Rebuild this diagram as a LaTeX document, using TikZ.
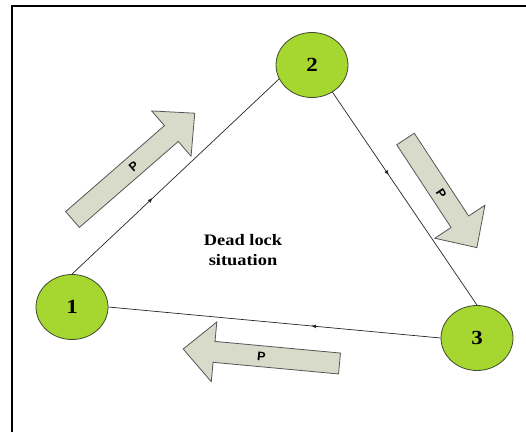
\documentclass[tikz,border=0pt]{standalone}
\usepackage{fontspec}
\usepackage{graphicx}
\setmainfont{Liberation Serif}
\setsansfont{Liberation Sans}
\usetikzlibrary{shapes.geometric,arrows.meta,decorations.markings}

\definecolor{limegreen}{HTML}{A6D630}
\definecolor{limeedge}{HTML}{404A30}
\definecolor{arrowfill}{HTML}{D8DBCA}
\definecolor{arrowedge}{HTML}{555555}

\tikzset{
  state/.style={ellipse, draw=limeedge, line width=0.8pt, fill=limegreen,
    minimum width=72pt, minimum height=65pt, inner sep=0pt,
    font=\fontsize{20}{24}\selectfont\bfseries},
  link/.style={draw=black!85, line width=0.7pt, postaction={decorate},
    decoration={markings, mark=at position 0.39 with {\arrow{Latex[length=5pt,width=4pt]}}}},
  blockarrow/.style={draw=arrowedge, line width=0.8pt, fill=arrowfill, line join=miter},
  plabel/.style={font=\sffamily\bfseries\fontsize{12.5}{14}\selectfont, inner sep=0pt},
  frameline/.style={line width=2pt},
}

% block arrow: name of its label, tail midpoint, direction, length, label angle
\newcommand\fatarrow[5]{%
  \begin{scope}[shift={#2}, rotate=#3]
    \draw[blockarrow] (0,-10.5) -- ({#4-31},-10.5) -- ({#4-31},-30) -- (#4,0)
      -- ({#4-31},30) -- ({#4-31},10.5) -- (0,10.5) -- cycle;
    \node[plabel, rotate=#5] (#1) at ({#4/2},0) {P};
  \end{scope}}

\begin{document}
\begin{tikzpicture}[x=1pt,y=1pt]
  \useasboundingbox (0,0) rectangle (526,432);
  \draw[frameline] (12,0) -- (12,426) -- (526,426);

  % processes
  \node[state] (n1) at (72,125) {\scalebox{1.15}[1]{1}};
  \node[state] (n2) at (312,367) {\scalebox{1.15}[1]{2}};
  \node[state] (n3) at (477,94) {\scalebox{1.15}[1]{3}};

  \node[align=center, font=\fontsize{16}{19.5}\selectfont\bfseries] (caption) at (243,182)
    {\scalebox{1.15}[1]{Dead lock}\\\scalebox{1.15}[1]{situation}};

  % requests passed around the cycle
  \fatarrow{pA}{(72.5,212.5)}{41}{162}{41}
  \fatarrow{pB}{(405.5,293)}{-56.7}{130}{-56.7}
  \fatarrow{pC}{(339.5,68.5)}{174.7}{157}{-5.3}

  % wait-for edges
  \draw[link] (n1.north) -- (n2.203);
  \draw[link] (n2.307) -- (n3.north);
  \draw[link] (n3.west) -- (n1.east);
\end{tikzpicture}
\end{document}
